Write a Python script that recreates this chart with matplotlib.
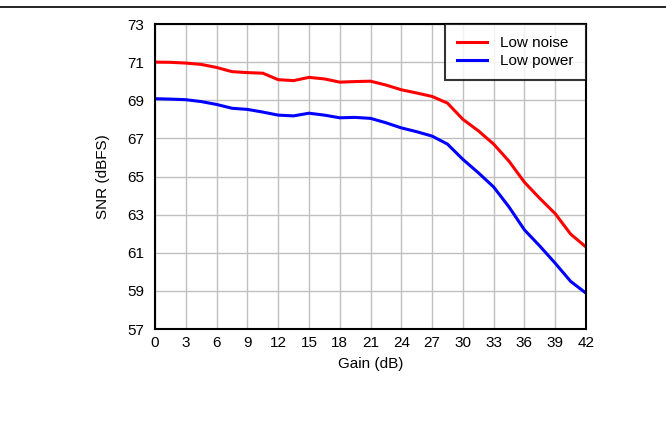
import numpy as np
import matplotlib
matplotlib.use("Agg")
import matplotlib.pyplot as plt
from matplotlib.lines import Line2D

plt.rcParams['font.family'] = ['Liberation Sans', 'DejaVu Sans']

gain = [0, 1.5, 3, 4.5, 6, 7.5, 9, 10.5, 12, 13.5, 15, 16.5, 18, 19.5, 21,
        22.5, 24, 25.5, 27, 28.5, 30, 31.5, 33, 34.5, 36, 37.5, 39, 40.5, 42]
low_noise = [71.0, 70.99, 70.95, 70.88, 70.72, 70.5, 70.45, 70.42, 70.08, 70.03,
             70.2, 70.12, 69.95, 69.98, 70.0, 69.8, 69.55, 69.38, 69.2, 68.85,
             68.0, 67.4, 66.7, 65.8, 64.7, 63.85, 63.05, 61.98, 61.3]
low_power = [69.08, 69.06, 69.03, 68.93, 68.78, 68.58, 68.52, 68.38, 68.22, 68.18,
             68.32, 68.22, 68.08, 68.1, 68.05, 67.82, 67.55, 67.35, 67.12, 66.7,
             65.9, 65.2, 64.45, 63.4, 62.2, 61.35, 60.45, 59.5, 58.88]

fig = plt.figure(figsize=(6.66, 4.23), dpi=100)
ax = fig.add_axes([155/666, 94/423, 431/666, 305/423])

ax.plot(gain, low_noise, color='#ff0000', lw=2.2, label='Low noise')
ax.plot(gain, low_power, color='#0000ff', lw=2.2, label='Low power')

ax.set_xlim(0, 42)
ax.set_ylim(57, 73)
ax.set_xticks(np.arange(0, 43, 3))
ax.set_yticks(np.arange(57, 74, 2))
ax.tick_params(length=0, labelsize=11)
ax.tick_params(axis='x', pad=5)
ax.tick_params(axis='y', pad=8)
ax.grid(True, color='#c0c0c0', lw=1)
ax.set_axisbelow(True)
for s in ax.spines.values():
    s.set_linewidth(1.5)
ax.set_xlabel('Gain (dB)', fontsize=11, labelpad=5)
ax.set_ylabel('SNR (dBFS)', fontsize=11, labelpad=12)

leg = ax.legend(loc='upper right', fontsize=11, frameon=True, fancybox=False,
                borderaxespad=0, handlelength=2.0, handletextpad=0.85,
                borderpad=0.8, labelspacing=0.25)
leg.get_frame().set_edgecolor('black')
leg.get_frame().set_linewidth(1.5)

fig.add_artist(Line2D([0, 1], [1 - 7/423, 1 - 7/423], color='black', lw=1.2))

fig.savefig('out.png', dpi=100)
